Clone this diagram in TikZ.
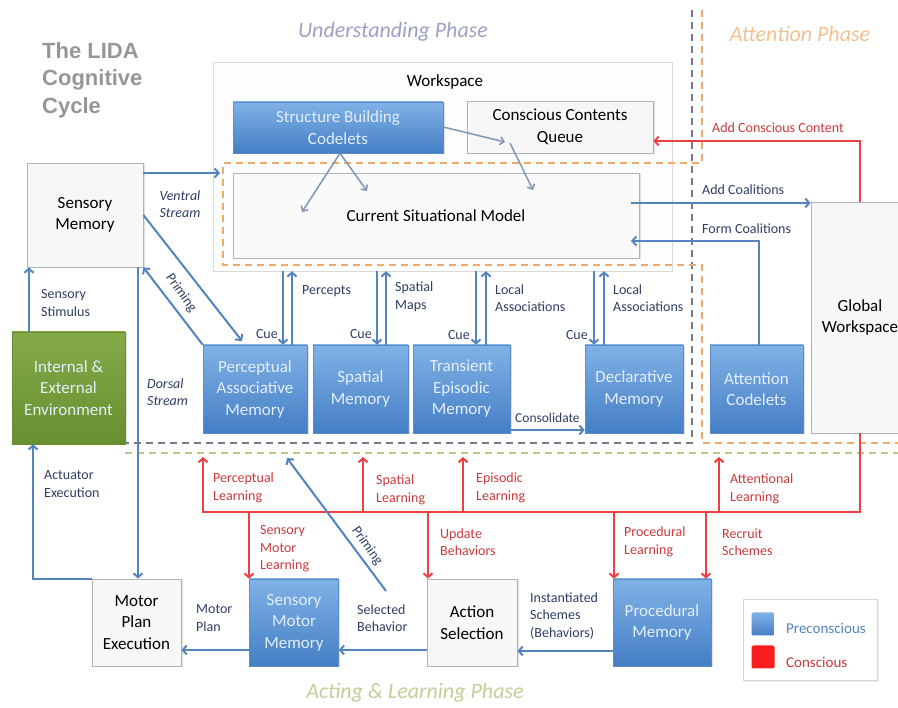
\documentclass[tikz,border=0pt]{standalone}
\usepackage{fontspec}
\setmainfont{Carlito}
\newfontfamily\titlefont{Liberation Sans}
\usetikzlibrary{arrows.meta,shadows}

\definecolor{bluetop}{RGB}{128,178,230}
\definecolor{bluebot}{RGB}{68,126,196}
\definecolor{blueedge}{RGB}{90,140,200}
\definecolor{bluetxt}{RGB}{228,238,252}
\definecolor{greentop}{RGB}{132,170,72}
\definecolor{greenbot}{RGB}{104,144,48}
\definecolor{arrblue}{RGB}{84,132,190}
\definecolor{thinblue}{RGB}{128,150,182}
\definecolor{arrred}{RGB}{236,64,66}
\definecolor{labblue}{RGB}{48,62,102}
\definecolor{labred}{RGB}{204,58,60}
\definecolor{boxfill}{RGB}{247,247,247}
\definecolor{boxedge}{RGB}{178,178,178}
\definecolor{dashgray}{RGB}{122,122,140}
\definecolor{dashorange}{RGB}{238,172,104}
\definecolor{dashgreen}{RGB}{186,200,140}
\definecolor{phaseund}{RGB}{158,160,198}
\definecolor{phaseatt}{RGB}{244,192,146}
\definecolor{phaseact}{RGB}{196,206,152}

\tikzset{
  boxtxt/.style={font=\fontsize{17}{21.5}\selectfont, align=center, inner sep=0pt},
  graybox/.style={boxtxt, draw=boxedge, fill=boxfill, line width=0.8pt,
    drop shadow={opacity=0.25, shadow xshift=1.5pt, shadow yshift=-1.5pt}},
  bluebox/.style={boxtxt, draw=blueedge, top color=bluetop, bottom color=bluebot,
    text=bluetxt, line width=0.6pt,
    drop shadow={opacity=0.25, shadow xshift=1.5pt, shadow yshift=-1.5pt}},
  greenbox/.style={boxtxt, draw=greenbot, top color=greentop, bottom color=greenbot,
    text=bluetxt, line width=0.6pt,
    drop shadow={opacity=0.25, shadow xshift=1.5pt, shadow yshift=-1.5pt}},
  blarr/.style={draw=arrblue, line width=2pt, -{Straight Barb[length=4pt,width=9pt]}},
  thinarr/.style={draw=thinblue, line width=1.5pt, -{Straight Barb[length=4pt,width=8pt]}},
  rdarr/.style={draw=arrred, line width=2pt, -{Straight Barb[length=4pt,width=9pt]}},
  blab/.style={font=\fontsize{14}{17.5}\selectfont, text=labblue, align=left, anchor=west, inner sep=0pt},
  rlab/.style={font=\fontsize{14}{17.5}\selectfont, text=labred, align=left, anchor=west, inner sep=0pt},
  phase/.style={font=\fontsize{22}{26}\selectfont\itshape, inner sep=0pt},
  dashline/.style={line width=2pt, dash pattern=on 7pt off 5pt}
}

\begin{document}
\begin{tikzpicture}[x=1pt,y=-1pt]
  \useasboundingbox (0,0) rectangle (898,708);
  \clip (0,0) rectangle (898,708);
  \fill[white] (0,0) rectangle (898,708);

  % -=-=-=-=- TITLE AND PHASES -=-=-=-=-
  \node[anchor=west, align=left, inner sep=0pt, text={rgb,255:red,150;green,150;blue,150},
    font=\titlefont\bfseries\fontsize{22}{27.5}\selectfont] (title) at (42,80) {The LIDA\\Cognitive\\Cycle};
  \node[phase, text=phaseund] (undph) at (393,32) {Understanding Phase};
  \node[phase, text=phaseatt] (attph) at (800,34) {Attention Phase};
  \node[phase, text=phaseact] (actph) at (415,693) {Acting \& Learning Phase};

  % -=-=-=-=- WORKSPACE -=-=-=-=-
  \node[draw={rgb,255:red,218;green,218;blue,218}, fill={rgb,255:red,253;green,253;blue,253},
    minimum width=459, minimum height=209] (wspace) at (442.5,166.5) {};
  \node[boxtxt, font=\fontsize{17}{20}\selectfont] (wslabel) at (445,82) {Workspace};

  % -=-=-=-=- PHASE BORDERS -=-=-=-=-
  \draw[dashline, draw=dashgray] (692,10) -- (692,443) -- (125,443);
  \draw[dashline, draw=dashorange] (702,10) -- (702,163) -- (223,163) -- (223,265)
    -- (702,265) -- (702,443) -- (898,443);
  \draw[dashline, draw=dashgreen] (125,453) -- (898,453);

  % -=-=-=-=- MODULES -=-=-=-=-
  \node[bluebox, minimum width=210, minimum height=51] (sbcod) at (338,127.5) {Structure Building\\Codelets};
  \node[graybox, minimum width=186, minimum height=52] (ccqueue) at (560,127) {Conscious Contents\\Queue};
  \node[graybox, fill={rgb,255:red,250;green,250;blue,250}, minimum width=406, minimum height=85] (csmodel) at (436,215.5) {Current Situational Model};

  \node[graybox, minimum width=116, minimum height=104] (sensmem) at (85,215) {Sensory\\Memory};
  \node[greenbox, minimum width=113, minimum height=112] (envir) at (68.5,388) {Internal \&\\External\\Environment};

  \node[bluebox, minimum width=104, minimum height=88] (pamem) at (255,389) {Perceptual\\Associative\\Memory};
  \node[bluebox, minimum width=95, minimum height=88] (spmem) at (360.5,389) {Spatial\\Memory};
  \node[bluebox, minimum width=97, minimum height=88] (temem) at (461.5,389) {Transient\\Episodic\\Memory};
  \node[bluebox, minimum width=98, minimum height=88] (dmem) at (634,389) {Declarative\\Memory};
  \node[bluebox, minimum width=93, minimum height=88] (attcod) at (756.5,389) {Attention\\Codelets};
  \node[graybox, minimum width=98, minimum height=231] (gwspace) at (860,317.5) {Global\\Workspace};

  \node[graybox, minimum width=89, minimum height=87] (mpexec) at (136.5,622.5) {Motor\\Plan\\Execution};
  \node[bluebox, minimum width=89, minimum height=87] (smmem) at (294,622.5) {Sensory\\Motor\\Memory};
  \node[graybox, minimum width=90, minimum height=87] (actsel) at (472,622.5) {Action\\Selection};
  \node[bluebox, minimum width=98, minimum height=87] (procmem) at (662,622.5) {Procedural\\Memory};

  % -=-=-=-=- WORKSPACE ARROWS -=-=-=-=-
  \draw[thinarr] (sbcod.south -| 340,0) -- (302,212);
  \draw[thinarr] (sbcod.south -| 340,0) -- (367,191);
  \draw[thinarr] (sbcod.east |- 0,127) -- (505,142);
  \draw[thinarr] (510,143) -- (533,190);

  % -=-=-=-=- SENSORY SIDE -=-=-=-=-
  \draw[blarr] (sensmem.east |- 0,173) -- (220,173);
  \node[blab, font=\fontsize{14}{17.5}\selectfont\itshape, align=center, anchor=center] (ventral) at (180,204) {Ventral\\Stream};
  \draw[blarr] (sensmem.east |- 0,215) -- (242,341);
  \draw[blarr] (pamem.north west) -- (sensmem.south east);
  \node[blab, rotate=-55, anchor=center] (prim1) at (181,293) {Priming};
  \draw[blarr] (envir.north -| 29,0) -- (sensmem.south -| 29,0);
  \node[blab] (stim) at (41,303) {Sensory\\Stimulus};
  \draw[blarr] (sensmem.south -| 138,0) -- (mpexec.north -| 138,0);
  \node[blab, font=\fontsize{14}{17.5}\selectfont\itshape] (dorsal) at (147,392) {Dorsal\\Stream};
  \draw[blarr] (mpexec.north west) -| (envir.south -| 33,0);
  \node[blab] (actu) at (44,484) {Actuator\\Execution};

  % -=-=-=-=- CUES AND ASSOCIATIONS -=-=-=-=-
  \foreach \mem/\xc/\xu in {pamem/283/292, spmem/377/386, temem/476/486, dmem/594/604}{
    \draw[blarr] (\xc,0 |- wspace.south) -- (\xc,0 |- \mem.north);
    \draw[blarr] (\xu,0 |- \mem.north) -- (\xu,0 |- wspace.south);
  }
  \node[blab, anchor=east] (cue1) at (278,334) {Cue};
  \node[blab, anchor=east] (cue2) at (372,334) {Cue};
  \node[blab, anchor=east] (cue3) at (470,335) {Cue};
  \node[blab, anchor=east] (cue4) at (588,335) {Cue};
  \node[blab] (percepts) at (302,291) {Percepts};
  \node[blab] (spmaps) at (395,297) {Spatial\\Maps};
  \node[blab] (locas1) at (495,298) {Local\\Associations};
  \node[blab] (locas2) at (613,298) {Local\\Associations};
  \draw[blarr] (temem.east |- 0,430) -- (dmem.west |- 0,430);
  \node[blab, font=\fontsize{13.5}{16}\selectfont] (consol) at (515,418) {Consolidate};

  % -=-=-=-=- ATTENTION -=-=-=-=-
  \draw[blarr] (631,203) -- (gwspace.west |- 0,203);
  \node[blab] (addco) at (702,190) {Add Coalitions};
  \draw[blarr] (attcod.north -| 759,0) |- (631,241);
  \node[blab] (formco) at (702,229) {Form Coalitions};
  \draw[rdarr] (gwspace.north) |- (ccqueue.east |- 0,141);
  \node[rlab] (addcc) at (712,128) {Add Conscious Content};

  % -=-=-=-=- LEARNING -=-=-=-=-
  \draw[rdarr] (gwspace.south) |- (203,512) -- (203,457);
  \foreach \xl in {363, 463, 719}{
    \draw[rdarr] (\xl,512) -- (\xl,457);
  }
  \draw[rdarr] (249,512) -- (249,0 |- smmem.north);
  \draw[rdarr] (428,512) -- (428,0 |- actsel.north);
  \draw[rdarr] (614,512) -- (614,0 |- procmem.north);
  \draw[rdarr] (706,512) -- (706,0 |- procmem.north);
  \node[rlab] (perclrn) at (213,488) {Perceptual\\Learning};
  \node[rlab] (spalrn) at (376,490) {Spatial\\Learning};
  \node[rlab] (epilrn) at (476,488) {Episodic\\Learning};
  \node[rlab] (attlrn) at (730,489) {Attentional\\Learning};
  \node[rlab] (smlrn) at (260,549) {Sensory\\Motor\\Learning};
  \node[rlab] (updbeh) at (440,542) {Update\\Behaviors};
  \node[rlab] (proclrn) at (624,542) {Procedural\\Learning};
  \node[rlab] (recsch) at (722,542) {Recruit\\Schemes};

  % -=-=-=-=- ACTION -=-=-=-=-
  \draw[blarr] (smmem.west |- 0,650) -- (mpexec.east |- 0,650);
  \node[blab] (mplan) at (196,618) {Motor\\Plan};
  \draw[blarr] (actsel.west |- 0,650) -- (smmem.east |- 0,650);
  \node[blab] (selbeh) at (357,618) {Selected\\Behavior};
  \draw[blarr] (procmem.west |- 0,651) -- (actsel.east |- 0,651);
  \node[blab] (instsch) at (530,616) {Instantiated\\Schemes\\(Behaviors)};
  \coordinate (primA) at (386,591);
  \coordinate (primB) at (287,458);
  \draw[blarr] (primA) -- (primB);
  \node[blab, rotate=-55, anchor=center] (prim2) at (367,546) {Priming};

  % -=-=-=-=- LEGEND -=-=-=-=-
  \node[draw={rgb,255:red,215;green,215;blue,215}, fill=white, minimum width=134, minimum height=81,
    drop shadow={opacity=0.15, shadow xshift=1.5pt, shadow yshift=-1.5pt}] (legend) at (810,639.5) {};
  \node[top color=bluetop, bottom color=bluebot, rounded corners=2pt, minimum size=23] (legblue) at (763,624) {};
  \node[fill={rgb,255:red,250;green,30;blue,30}, rounded corners=2pt, minimum size=23] (legred) at (763,657) {};
  \node[anchor=west, inner sep=0pt, text=arrblue, font=\fontsize{15}{18}\selectfont] (legpre) at (786,628) {Preconscious};
  \node[anchor=west, inner sep=0pt, text=labred, font=\fontsize{15}{18}\selectfont] (legcon) at (786,662) {Conscious};
\end{tikzpicture}
\end{document}
